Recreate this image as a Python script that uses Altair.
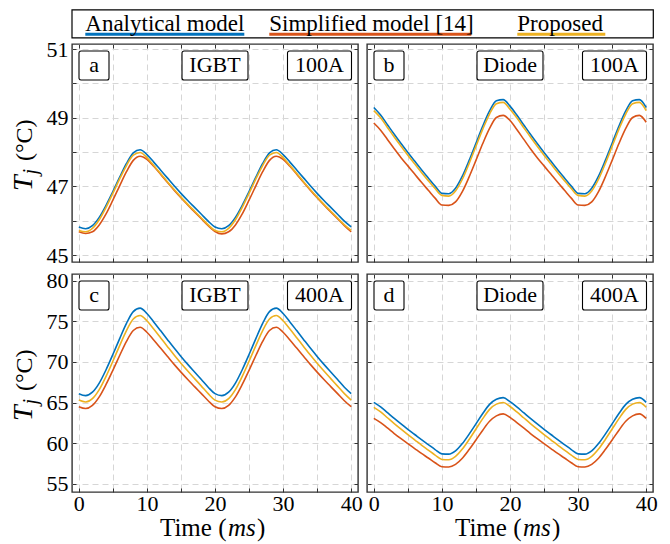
import altair as alt
import pandas as pd

# ---------------- data ----------------
time_ms = list(range(0, 41))

igbt100_analytical = [45.82, 45.77, 45.86, 46.10, 46.45, 46.85, 47.27, 47.67, 47.98, 48.07, 47.93, 47.71, 47.48, 47.25, 47.02, 46.80, 46.59, 46.39, 46.19, 45.99,
                      45.82, 45.77, 45.86, 46.10, 46.45, 46.85, 47.27, 47.67, 47.98, 48.07, 47.93, 47.71, 47.48, 47.25, 47.02, 46.80, 46.59, 46.39, 46.19, 45.99, 45.82]
igbt100_simplified = [45.68, 45.63, 45.68, 45.88, 46.20, 46.60, 47.02, 47.43, 47.76, 47.88, 47.79, 47.59, 47.36, 47.12, 46.89, 46.67, 46.46, 46.26, 46.06, 45.86,
                      45.69, 45.62, 45.68, 45.88, 46.20, 46.60, 47.02, 47.43, 47.76, 47.88, 47.79, 47.59, 47.36, 47.12, 46.89, 46.67, 46.46, 46.26, 46.06, 45.86, 45.68]
igbt100_proposed = [45.72, 45.68, 45.78, 46.03, 46.39, 46.80, 47.22, 47.61, 47.91, 47.99, 47.84, 47.61, 47.38, 47.14, 46.91, 46.69, 46.48, 46.28, 46.08, 45.88,
                    45.72, 45.68, 45.78, 46.03, 46.39, 46.80, 47.22, 47.61, 47.91, 47.99, 47.84, 47.61, 47.38, 47.14, 46.91, 46.69, 46.48, 46.28, 46.08, 45.88, 45.72]

diode100_analytical = [49.30, 49.08, 48.80, 48.52, 48.25, 47.99, 47.74, 47.49, 47.25, 47.01, 46.80, 46.79, 46.95, 47.30, 47.76, 48.26, 48.76, 49.20, 49.50, 49.53,
                       49.34, 49.08, 48.80, 48.52, 48.25, 47.99, 47.74, 47.49, 47.25, 47.01, 46.80, 46.79, 46.95, 47.30, 47.76, 48.26, 48.76, 49.20, 49.50, 49.53, 49.30]
diode100_simplified = [48.85, 48.64, 48.37, 48.10, 47.84, 47.60, 47.36, 47.12, 46.89, 46.66, 46.46, 46.45, 46.55, 46.85, 47.28, 47.76, 48.25, 48.69, 49.01, 49.07,
                       48.92, 48.66, 48.38, 48.10, 47.84, 47.60, 47.36, 47.12, 46.89, 46.66, 46.46, 46.45, 46.55, 46.85, 47.28, 47.76, 48.25, 48.69, 49.01, 49.07, 48.87]
diode100_proposed = [49.21, 49.00, 48.72, 48.44, 48.17, 47.91, 47.66, 47.41, 47.17, 46.94, 46.74, 46.72, 46.87, 47.21, 47.67, 48.17, 48.67, 49.11, 49.41, 49.45,
                     49.25, 49.00, 48.72, 48.44, 48.17, 47.91, 47.66, 47.41, 47.17, 46.94, 46.74, 46.72, 46.87, 47.21, 47.67, 48.17, 48.67, 49.11, 49.41, 49.45, 49.21]

igbt400_analytical = [66.09, 65.85, 66.27, 67.39, 69.03, 70.90, 72.86, 74.73, 76.17, 76.60, 75.94, 74.91, 73.84, 72.76, 71.69, 70.67, 69.69, 68.75, 67.82, 66.88,
                      66.09, 65.85, 66.27, 67.39, 69.03, 70.90, 72.86, 74.73, 76.17, 76.60, 75.94, 74.91, 73.84, 72.76, 71.69, 70.67, 69.69, 68.75, 67.82, 66.88, 66.09]
igbt400_simplified = [64.48, 64.26, 64.65, 65.69, 67.22, 68.96, 70.78, 72.52, 73.85, 74.25, 73.64, 72.68, 71.69, 70.69, 69.69, 68.74, 67.83, 66.96, 66.09, 65.22,
                      64.48, 64.26, 64.65, 65.69, 67.22, 68.96, 70.78, 72.52, 73.85, 74.25, 73.64, 72.68, 71.69, 70.69, 69.69, 68.74, 67.83, 66.96, 66.09, 65.22, 64.48]
igbt400_proposed = [65.30, 65.07, 65.48, 66.59, 68.22, 70.07, 72.00, 73.85, 75.27, 75.70, 75.05, 74.03, 72.97, 71.90, 70.84, 69.83, 68.87, 67.94, 67.02, 66.09,
                    65.30, 65.07, 65.48, 66.59, 68.22, 70.07, 72.00, 73.85, 75.27, 75.70, 75.05, 74.03, 72.97, 71.90, 70.84, 69.83, 68.87, 67.94, 67.02, 66.09, 65.30]

diode400_analytical = [65.02, 64.46, 63.75, 63.04, 62.36, 61.70, 61.07, 60.43, 59.83, 59.22, 58.69, 58.66, 59.06, 59.95, 61.12, 62.38, 63.65, 64.77, 65.40, 65.60,
                       65.11, 64.46, 63.75, 63.04, 62.36, 61.70, 61.07, 60.43, 59.83, 59.22, 58.69, 58.66, 59.06, 59.95, 61.12, 62.38, 63.65, 64.77, 65.40, 65.60, 65.02]
diode400_simplified = [63.05, 62.53, 61.87, 61.19, 60.55, 59.94, 59.34, 58.74, 58.18, 57.60, 57.11, 57.08, 57.40, 58.15, 59.22, 60.40, 61.60, 62.69, 63.36, 63.60,
                       63.17, 62.53, 61.87, 61.19, 60.55, 59.94, 59.34, 58.74, 58.18, 57.60, 57.11, 57.08, 57.40, 58.15, 59.22, 60.40, 61.60, 62.69, 63.36, 63.60, 63.05]
diode400_proposed = [64.41, 63.85, 63.13, 62.41, 61.72, 61.05, 60.41, 59.76, 59.15, 58.53, 58.00, 57.97, 58.38, 59.28, 60.46, 61.74, 63.02, 64.16, 64.80, 65.00,
                     64.51, 63.85, 63.13, 62.41, 61.72, 61.05, 60.41, 59.76, 59.15, 58.53, 58.00, 57.97, 58.38, 59.28, 60.46, 61.74, 63.02, 64.16, 64.80, 65.00, 64.41]

series_names = ["Analytical model", "Simplified model [14]", "Proposed"]
x_ticks = [0, 5, 10, 15, 20, 25, 30, 35, 40]
y_ticks_top = [45, 46, 47, 48, 49, 50, 51]
y_ticks_bottom = [55, 60, 65, 70, 75, 80]

# ---------------- style ----------------
BLUE, ORANGE, YELLOW = "#0072BD", "#D95319", "#EDB120"
FONT = "Liberation Serif"
W, H = 286, 218
FRAME = "#333333"
LW = 1.6


def one():
    return alt.Data(values=[{"k": 0}])


def tick_axis(orient, offset, values):
    return alt.Axis(orient=orient, offset=offset, values=values, grid=False, ticks=True,
                    tickSize=4, tickColor=FRAME, tickWidth=1, labels=False, domain=False,
                    title=None)


def txt(text, x, y, size=22, style="normal", align="left", angle=0):
    return alt.Chart(one()).mark_text(text=text, font=FONT, fontSize=size, fontStyle=style,
                                      color="black", align=align, baseline="alphabetic",
                                      angle=angle).encode(x=alt.value(x), y=alt.value(y))


def box(x1, x2, label):
    r = alt.Chart(one()).mark_rect(fill="white", stroke="black", strokeWidth=1.1,
                                   cornerRadius=2).encode(
        x=alt.value(x1), x2=alt.value(x2), y=alt.value(7), y2=alt.value(36))
    return [r, txt(label, (x1 + x2) / 2, 28, size=22, align="center")]


def panel(a, s, p, ydom, yticks, letter, device, current, left, bottom, odd_labels, legend=False):
    df = pd.DataFrame({"t": time_ms, "a": a, "s": s, "p": p})
    xs = alt.Scale(domain=[-1, 41], nice=False, zero=False)
    ys = alt.Scale(domain=ydom, nice=False, zero=False)
    grid = dict(grid=True, gridDash=[6, 4], gridColor="#d6d6d6", gridWidth=1)
    xmain = alt.Axis(orient="bottom", values=x_ticks, ticks=False, domain=False, labels=bottom,
                     labelExpr="datum.value % 10 === 0 ? datum.label : ''", labelFont=FONT,
                     labelFontSize=22, labelColor="black", labelPadding=1, labelFlush=False,
                     title=None, **grid)
    yexpr = "datum.value % 2 === 1 ? datum.label : ''" if odd_labels else "datum.label"
    ymain = alt.Axis(orient="left", values=yticks, ticks=False, domain=False, labels=left,
                     labelExpr=yexpr, labelFont=FONT, labelFontSize=22, labelColor="black",
                     labelPadding=4, labelFlush=False, title=None, **grid)
    base = alt.Chart(df)
    la = base.mark_line(color=BLUE, strokeWidth=LW, interpolate="monotone").encode(
        x=alt.X("t:Q", scale=xs, axis=xmain), y=alt.Y("a:Q", scale=ys, axis=ymain))
    ls = base.mark_line(color=ORANGE, strokeWidth=LW, interpolate="monotone").encode(
        x=alt.X("t:Q", scale=xs, axis=tick_axis("top", -H, x_ticks)),
        y=alt.Y("s:Q", scale=ys, axis=tick_axis("right", -W, yticks)))
    lp = base.mark_line(color=YELLOW, strokeWidth=LW, interpolate="monotone").encode(
        x=alt.X("t:Q", scale=xs, axis=tick_axis("bottom", -H, x_ticks)),
        y=alt.Y("p:Q", scale=ys, axis=tick_axis("left", -W, yticks)))
    layers = [la, ls, lp]
    layers += box(7, 37, letter)
    layers += box(110, 176, device)
    layers += box(215.5, 279.5, current)
    if left:
        layers.append(txt("T", -40.5, 147, size=28, style="italic", angle=270))
        layers.append(txt("j", -35, 130.5, size=20, style="italic", angle=270))
        layers.append(txt("(°C)", -40.5, 117, size=24, angle=270))
    if bottom:
        layers.append(txt("Time (", 154.5, H + 44, size=25, align="right"))
        layers.append(txt("ms", 156, H + 44, size=25, style="italic"))
        layers.append(txt(")", 185, H + 44, size=25))
    if legend:
        layers.append(alt.Chart(one()).mark_rect(fill="white", stroke="black", strokeWidth=1.2).encode(
            x=alt.value(0), x2=alt.value(581.3), y=alt.value(-34.2), y2=alt.value(-6.2)))
        for name, col, x1, x2 in [(series_names[0], BLUE, 13.3, 172.3),
                                  (series_names[1], ORANGE, 197.3, 399.3),
                                  (series_names[2], YELLOW, 445.3, 533.3)]:
            layers.append(alt.Chart(one()).mark_rule(color=col, strokeWidth=3).encode(
                x=alt.value(x1), x2=alt.value(x2), y=alt.value(-9.7)))
            layers.append(txt(name, x1, -13.2, size=23))
    return alt.layer(*layers).resolve_axis(x="independent", y="independent").properties(
        width=W, height=H)


pa = panel(igbt100_analytical, igbt100_simplified, igbt100_proposed, [44.8, 51.15], y_ticks_top,
           "a", "IGBT", "100A", True, False, True, legend=True)
pb = panel(diode100_analytical, diode100_simplified, diode100_proposed, [44.8, 51.15], y_ticks_top,
           "b", "Diode", "100A", False, False, True)
pc = panel(igbt400_analytical, igbt400_simplified, igbt400_proposed, [54.0, 80.8], y_ticks_bottom,
           "c", "IGBT", "400A", True, True, False)
pd_ = panel(diode400_analytical, diode400_simplified, diode400_proposed, [54.0, 80.8], y_ticks_bottom,
            "d", "Diode", "400A", False, True, False)

chart = alt.concat(pa, pb, pc, pd_, columns=2, spacing={"row": 12, "column": 9},
                   bounds="flush").properties(
    padding={"left": 0, "top": 0, "right": 0, "bottom": 0},
    background="white",
).configure_view(stroke=FRAME, strokeWidth=1.4)

chart.save("out.html", embed_options={"renderer": "svg", "actions": False})
